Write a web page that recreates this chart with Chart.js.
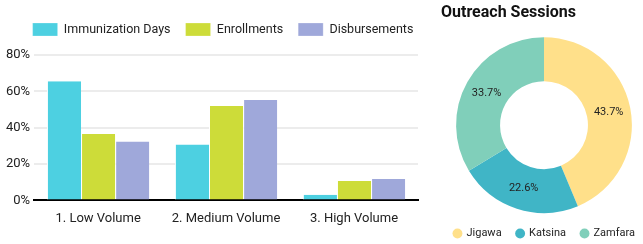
<!DOCTYPE html>
<html>
<head>
<meta charset="utf-8">
<script src="https://cdn.jsdelivr.net/npm/chart.js@4.4.1/dist/chart.umd.min.js"></script>
<style>
  html, body { margin: 0; padding: 0; background: #fff; }
  body { width: 643px; height: 244px; position: relative; overflow: hidden; font-family: Roboto, sans-serif; }
  #barBox { position: absolute; left: 0; top: 0; width: 428px; height: 244px; }
  #pieBox { position: absolute; left: 428px; top: 0; width: 215px; height: 244px; }
</style>
</head>
<body>
<div id="barBox"><canvas id="volumeChart"></canvas></div>
<div id="pieBox"><canvas id="outreachChart"></canvas></div>
<script>
const categories = ["1. Low Volume", "2. Medium Volume", "3. High Volume"];
const immunizationDays = [65.6, 30.8, 3.1];
const enrollments = [36.6, 52.0, 10.7];
const disbursements = [32.4, 55.3, 11.8];

const states = ["Jigawa", "Katsina", "Zamfara"];
const outreachShares = [43.7, 22.6, 33.7];

Chart.defaults.font.family = "Roboto, sans-serif";
Chart.defaults.color = "#222";

// more room between the legend and the plot
const legendGap = {
  id: "legendGap",
  beforeInit(chart) {
    const fit = chart.legend.fit;
    chart.legend.fit = function () {
      fit.bind(chart.legend)();
      this.height += 9;
    };
  },
};

// small position tweaks after the layout is done
const nudge = {
  id: "nudge",
  afterLayout(chart, args, opts) {
    if (chart.legend) {
      chart.legend.left += opts.legendX || 0;
      chart.legend.right += opts.legendX || 0;
      chart.legend.top += opts.legendY || 0;
      chart.legend.bottom += opts.legendY || 0;
    }
    if (opts.titleX && chart.titleBlock) {
      chart.titleBlock.left += opts.titleX;
      chart.titleBlock.right += opts.titleX;
    }
    if (opts.areaLeft) {
      chart.chartArea.left += opts.areaLeft;
      chart.chartArea.width -= opts.areaLeft;
    }
    if (opts.areaBottom) {
      chart.chartArea.bottom += opts.areaBottom;
      chart.chartArea.height += opts.areaBottom;
    }
  },
};

function displayVolumeChart() {
  const ctx = document.getElementById("volumeChart").getContext("2d");
  new Chart(ctx, {
    type: "bar",
    data: {
      labels: categories,
      datasets: [
        { label: "Immunization Days", data: immunizationDays, backgroundColor: "#4dd0e1" },
        { label: "Enrollments", data: enrollments, backgroundColor: "#cddc39" },
        { label: "Disbursements", data: disbursements, backgroundColor: "#9fa8da" },
      ].map((d) => ({
        ...d,
        borderColor: "#fff",
        borderWidth: { left: 1, right: 0, top: 0, bottom: 0 },
        categoryPercentage: 0.8,
        barPercentage: 1.0,
      })),
    },
    options: {
      responsive: true,
      maintainAspectRatio: false,
      animation: false,
      layout: { padding: { left: 2, right: 10, top: 8, bottom: 14 } },
      plugins: {
        tooltip: { enabled: false },
        nudge: { legendX: 13 },
        legend: {
          labels: {
            boxWidth: 25,
            boxHeight: 13,
            padding: 15,
            font: { size: 12.5 },
            color: "#222",
          },
        },
      },
      scales: {
        x: {
          grid: { display: false },
          border: { color: "#000", width: 2 },
          ticks: { font: { size: 13 }, color: "#222" },
        },
        y: {
          min: 0,
          max: 80,
          grid: { color: "#ececec", lineWidth: 2, drawTicks: false },
          border: { display: false },
          ticks: {
            stepSize: 10,
            padding: 4,
            font: { size: 13 },
            color: "#222",
            callback: (v) => (v % 20 === 0 ? v + "%" : ""),
          },
        },
      },
    },
    plugins: [legendGap, nudge],
  });
}

const sliceLabels = {
  id: "sliceLabels",
  afterDatasetsDraw(chart) {
    const { ctx } = chart;
    const meta = chart.getDatasetMeta(0);
    ctx.save();
    ctx.font = "11px Roboto, sans-serif";
    ctx.fillStyle = "#222";
    ctx.textAlign = "center";
    ctx.textBaseline = "middle";
    meta.data.forEach((arc, i) => {
      const p = arc.tooltipPosition();
      ctx.fillText(outreachShares[i].toFixed(1) + "%", p.x, p.y);
    });
    ctx.restore();
  },
};

function displayOutreachChart() {
  const ctx = document.getElementById("outreachChart").getContext("2d");
  new Chart(ctx, {
    type: "doughnut",
    data: {
      labels: states,
      datasets: [
        {
          data: outreachShares,
          backgroundColor: ["#ffe08a", "#40b5c6", "#80cfba"],
          borderWidth: 0,
        },
      ],
    },
    options: {
      responsive: true,
      maintainAspectRatio: false,
      animation: false,
      cutout: "50%",
      layout: { padding: 0 },
      plugins: {
        tooltip: { enabled: false },
        nudge: { legendX: 9, legendY: 5, titleX: 13, areaLeft: 17, areaBottom: 5 },
        title: {
          display: true,
          text: "Outreach Sessions",
          align: "start",
          color: "#111",
          font: { size: 16, weight: "bold" },
          padding: { top: 3, bottom: 15 },
        },
        legend: {
          position: "bottom",
          labels: {
            usePointStyle: true,
            pointStyle: "circle",
            boxWidth: 7,
            boxHeight: 7,
            padding: 15,
            font: { size: 11 },
            color: "#222",
          },
        },
      },
    },
    plugins: [sliceLabels, nudge],
  });
}

displayVolumeChart();
displayOutreachChart();
</script>
</body>
</html>
